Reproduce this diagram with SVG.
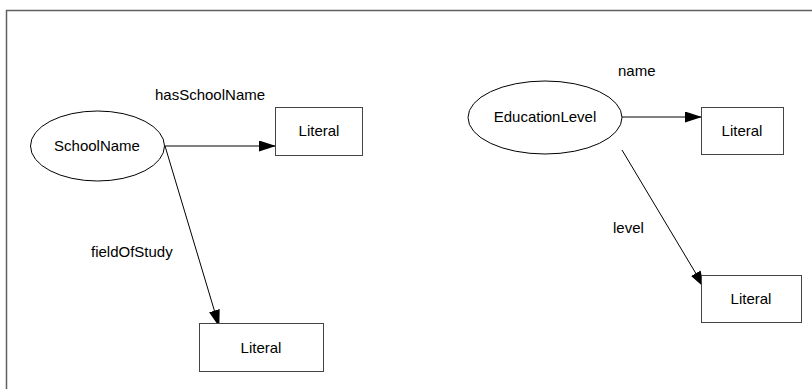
<svg xmlns="http://www.w3.org/2000/svg" width="812" height="389" viewBox="0 0 812 389">
  <defs>
    <marker id="arrow" markerWidth="17" markerHeight="11" refX="16" refY="5.5" orient="auto" markerUnits="userSpaceOnUse">
      <path d="M0,0 L17,5.5 L0,11 Z" fill="#000"/>
    </marker>
    <style>
      text { font-family: "Liberation Sans", Arial, sans-serif; font-size: 15px; fill: #000; }
      .node-text { text-anchor: middle; }
      .cls { fill: #fff; stroke: #000; stroke-width: 1; }
      .lit { fill: #fff; stroke: #444; stroke-width: 1; }
      .edge { stroke: #000; stroke-width: 1; fill: none; marker-end: url(#arrow); }
    </style>
  </defs>

  <rect x="0" y="0" width="812" height="389" fill="#fff"/>
  <!-- outer frame -->
  <path d="M6.5,389 V10.5 H812" fill="none" stroke="#606060" stroke-width="1.5"/>

  <g id="connectors">
    <line class="edge" x1="165" y1="146" x2="275" y2="146"/>
    <line class="edge" x1="165" y1="146" x2="219" y2="326"/>
    <line class="edge" x1="622" y1="117" x2="701" y2="117"/>
    <line class="edge" x1="622" y1="150" x2="704" y2="287"/>
    <text x="155" y="100">hasSchoolName</text>
    <text x="91" y="257">fieldOfStudy</text>
    <text x="618" y="76">name</text>
    <text x="613" y="233">level</text>
  </g>

  <g id="schoolName">
    <ellipse class="cls" cx="97.5" cy="146" rx="67" ry="35"/>
    <text class="node-text" x="97" y="151">SchoolName</text>
  </g>

  <g id="literalSchoolName">
    <rect class="lit" x="275.5" y="107.5" width="87" height="48"/>
    <text class="node-text" x="319" y="136">Literal</text>
  </g>

  <g id="literalFieldOfStudy">
    <rect class="lit" x="199.5" y="323.5" width="124" height="48"/>
    <text class="node-text" x="261" y="353">Literal</text>
  </g>

  <g id="educationLevel">
    <ellipse class="cls" cx="545" cy="117.5" rx="77" ry="36.5"/>
    <text class="node-text" x="545" y="122">EducationLevel</text>
  </g>

  <g id="literalName">
    <rect class="lit" x="701.5" y="107.5" width="82" height="47"/>
    <text class="node-text" x="742" y="136">Literal</text>
  </g>

  <g id="literalLevel">
    <rect class="lit" x="701.5" y="275.5" width="100" height="47"/>
    <text class="node-text" x="751" y="304">Literal</text>
  </g>
</svg>
